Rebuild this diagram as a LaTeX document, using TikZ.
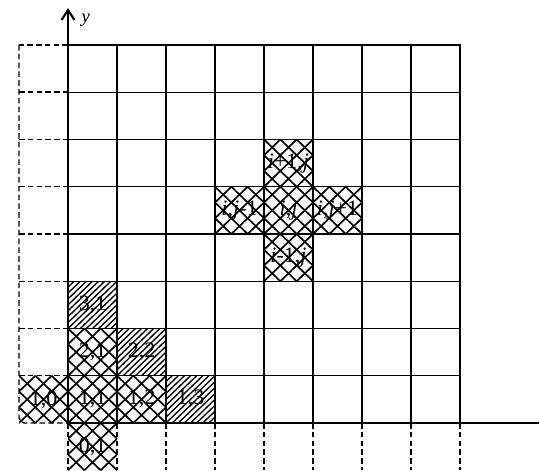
\documentclass[tikz,border=0pt]{standalone}
\usepackage{fontspec}
\setmainfont{Liberation Serif}
\usetikzlibrary{arrows.meta}
\tikzset{
  gridline/.style={black,line width=1pt},
  rimline/.style={black,line width=1.5pt},
  ghost/.style={black,line width=1.1pt,dash pattern=on 4.2pt off 2.4pt},
  hline/.style={black,line width=1pt},
  xline/.style={black,line width=1.25pt},
  lbl/.style={font=\fontsize{16.5}{17}\selectfont,inner sep=0pt},
  axis/.style={black,line width=1.9pt}
}
% crosshatched cell: col, row, label
\newcommand{\xcell}[3]{%
  \begin{scope}
    \clip (#1-1,#2-1) rectangle ++(1,1);
    \foreach \k in {-3,...,3} {
      \draw[xline] (#1-1+\k/3,#2-1) -- ++(1,1);
      \draw[xline] (#1-1+\k/3,#2) -- ++(1,-1);
    }
  \end{scope}
  \node[lbl] (c#2#1) at (#1-0.5,#2-0.5) {#3};%
}
% hatched cell: col, row, label
\newcommand{\hcell}[3]{%
  \begin{scope}
    \clip (#1-1,#2-1) rectangle ++(1,1);
    \foreach \k in {-8,...,8}
      \draw[hline] (#1-1+\k/8,#2-1) -- ++(1,1);
  \end{scope}
  \node[lbl] (c#2#1) at (#1-0.5,#2-0.5) {#3};%
}
\begin{document}
\begin{tikzpicture}[x=36.75pt,y=35.44pt]
  \useasboundingbox (-1.388,-0.995) rectangle (9.612,8.952);
  % stencil around (i,j)
  \xcell{5}{6}{\textit{i}+1,\textit{j}}
  \xcell{4}{5}{\textit{i},\textit{j}-1}
  \xcell{5}{5}{\textit{i},\textit{j}}
  \xcell{6}{5}{\textit{i},\textit{j}+1}
  \xcell{5}{4}{\textit{i}-1,\textit{j}}
  % corner cells
  \hcell{1}{3}{3,1}
  \xcell{1}{2}{2,1}
  \hcell{2}{2}{2,2}
  \xcell{0}{1}{1,0}
  \xcell{1}{1}{1,1}
  \xcell{2}{1}{1,2}
  \hcell{3}{1}{1,3}
  \xcell{1}{0}{0,1}
  % grid
  \draw[gridline,step=1] (0,0) grid (8,8);
  \draw[rimline] (0,8) -- (8,8) -- (8,0) -- (0,0);
  % ghost cells
  \draw[ghost] (0,8) -- (-1,8);
  \draw[ghost,rounded corners=4pt] (-1,8) -- (-1,0) -- (0,0);
  \foreach \r in {1,...,7}
    \draw[ghost] (-1,\r) -- (0,\r);
  \foreach \c in {0,...,8}
    \draw[ghost] (\c,0) -- (\c,-0.995);
  % axes
  \coordinate (xend) at (9.612,0);
  \coordinate (ytop) at (0,8.78);
  \draw[axis] (7.33,0) -- (xend);
  \draw[axis,-{Straight Barb[length=2.6mm,width=3.4mm,line width=1.6pt]}] (0,0) -- (ytop);
  \node[lbl,font=\fontsize{14}{15}\selectfont\itshape] (ylab) at (0.36,8.53) {y};
\end{tikzpicture}
\end{document}
